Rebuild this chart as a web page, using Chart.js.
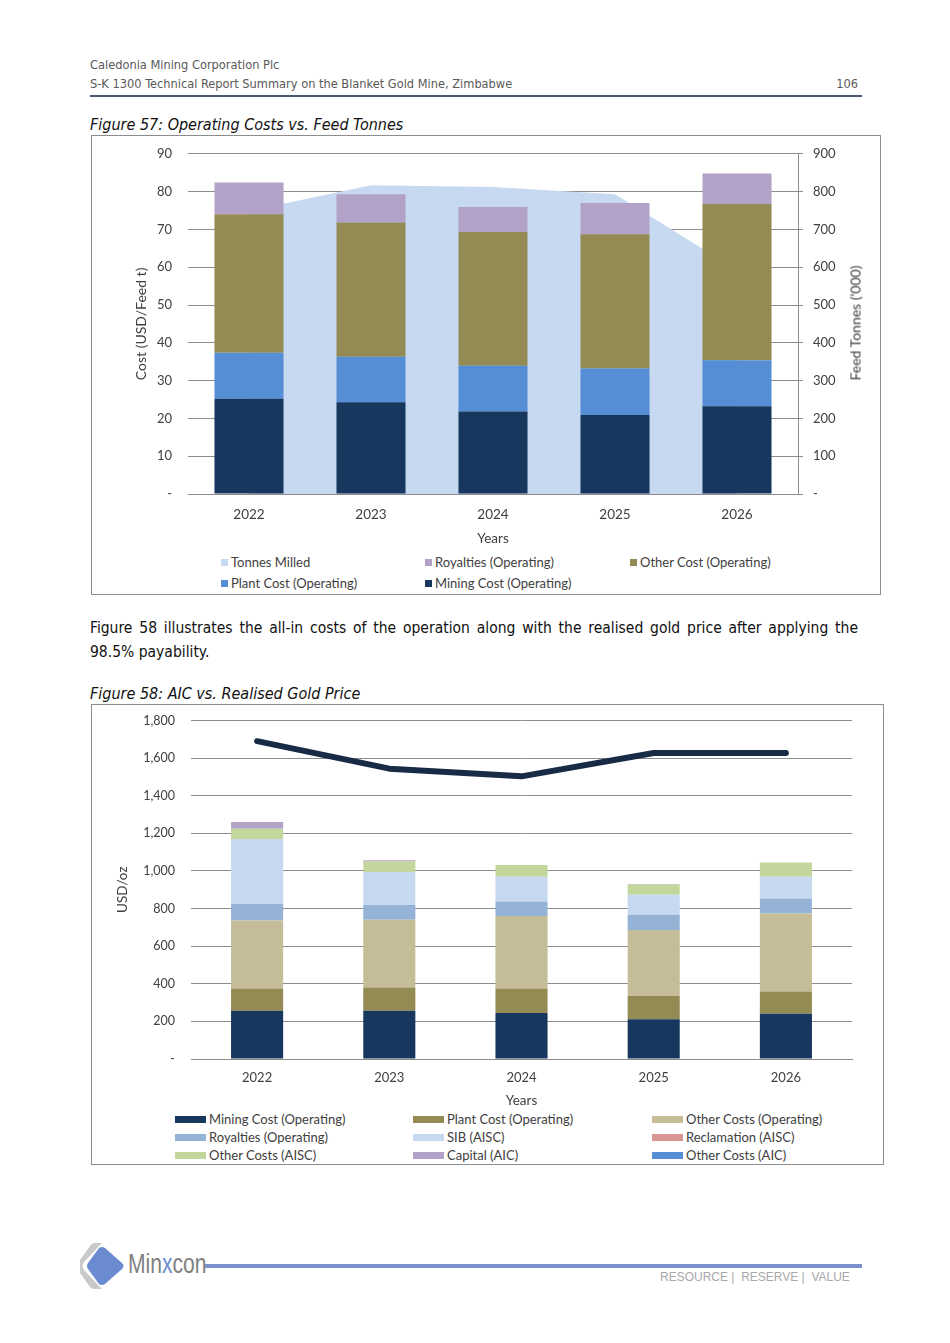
<!DOCTYPE html>
<html><head><meta charset="utf-8">
<script src="https://cdn.jsdelivr.net/npm/chart.js@4.4.1/dist/chart.umd.min.js"></script>
<style>
html,body{margin:0;padding:0;background:#fff;}
body{width:950px;height:1343px;position:relative;overflow:hidden;font-family:"DejaVu Sans Condensed","DejaVu Sans",sans-serif;}
.abs{position:absolute;white-space:nowrap;}
.hdr{color:#595959;font-size:12.7px;}
.cap{font-style:italic;font-size:16px;color:#111;}
.frame{position:absolute;border:1px solid #8c8c8c;box-sizing:border-box;}
.leg{position:absolute;font-family:Lato,sans-serif;font-size:13px;color:#404040;white-space:nowrap;line-height:16px;}
.leg .sw{display:inline-block;vertical-align:middle;margin-right:3px;position:relative;top:-1px;}
.para{left:90px;width:768px;font-size:15.5px;line-height:24px;color:#111;text-align:justify;text-align-last:left;white-space:normal;}
</style>
</head><body>
<div class="abs hdr" style="left:90px;top:57px;">Caledonia Mining Corporation Plc</div>
<div class="abs hdr" style="left:90px;top:76px;">S-K 1300 Technical Report Summary on the Blanket Gold Mine, Zimbabwe</div>
<div class="abs hdr" style="left:810px;top:76px;width:48px;text-align:right;">106</div>
<div class="abs" style="left:90px;top:95px;width:772px;height:2px;background:#4b5874;"></div>

<div class="abs cap" style="left:90px;top:115px;">Figure 57: Operating Costs vs. Feed Tonnes</div>
<div class="frame" style="left:91px;top:135px;width:790px;height:460px;"></div>
<div class="abs" style="left:92px;top:130px;width:787px;height:422px;"><canvas id="c1"></canvas></div>
<div class="abs" id="rt1" style="left:855px;top:323px;transform:translate(-50%,-50%) rotate(-90deg);font-family:Lato,sans-serif;font-size:14px;color:#404040;">Feed Tonnes ('000)</div>
<div id="leg1"></div>

<div class="abs para" style="top:616px;">Figure 58 illustrates the all-in costs of the operation along with the realised gold price after applying the 98.5% payability.</div>

<div class="abs cap" style="left:90px;top:684px;">Figure 58: AIC vs. Realised Gold Price</div>
<div class="frame" style="left:91px;top:704px;width:793px;height:461px;"></div>
<div class="abs" style="left:92px;top:697px;width:790px;height:413px;"><canvas id="c2"></canvas></div>
<div id="leg2"></div>

<svg class="abs" style="left:80px;top:1240px;" width="50" height="52" viewBox="0 0 50 52">
  <path d="M22 3 L4 22 Q1 26 4 30 L22 49 L14 49 Q12 49 10 47 L0 33 Q-2 26 0 20 L10 6 Q12 3 15 3 Z" fill="#c9c9c9"/>
  <path d="M25 8 L42 23 Q45 26 42 29 L25 44 Q22 46 19 44 L8 29 Q6 26 8 23 L19 8 Q22 6 25 8 Z" fill="#6a8bd0"/>
</svg>
<div class="abs" style="left:128px;top:1249px;font-family:'Liberation Sans',sans-serif;font-size:27px;color:#808080;transform:scaleX(0.78);transform-origin:0 50%;">Min<span style="color:#6a8bd0">x</span>con</div>
<div class="abs" style="left:205px;top:1264px;width:657px;height:4px;background:#7b91cb;"></div>
<div class="abs" style="left:660px;top:1270px;font-family:'Liberation Sans',sans-serif;font-size:12px;color:#a8a8a8;">RESOURCE |&nbsp; RESERVE |&nbsp; VALUE</div>

<script>
// ---------- Figure 57 data ----------
const years = ['2022', '2023', '2024', '2025', '2026'];
const miningCostPerT = [25.2, 24.3, 21.8, 20.9, 23.2];
const plantCostPerT = [12.2, 12.0, 12.1, 12.3, 12.2];
const otherCostPerT = [36.6, 35.5, 35.4, 35.5, 41.3];
const royaltiesPerT = [8.4, 7.5, 6.6, 8.3, 8.1];
const tonnesMilled = [749, 817, 812, 793, 592];

// ---------- Figure 58 data ----------
const miningOz = [256, 256, 244, 212, 240];
const plantOz = [119, 124, 131, 124, 119];
const otherOpOz = [362, 361, 385, 350, 415];
const royaltiesOz = [87, 78, 78, 81, 80];
const sibOz = [346, 175, 131, 106, 115];
const reclamationOz = [0, 0, 0, 0, 0];
const otherAiscOz = [55, 56, 63, 55, 76];
const capitalOz = [35, 7, 0, 3, 0];
const otherAicOz = [0, 0, 0, 0, 0];
const goldPrice = [1690, 1544, 1503, 1627, 1627];

const TXT = '#404040';
const GRID = '#8c8c8c';
const FONT = 'Lato';

const dash = v => v === 0 ? '-' : v.toLocaleString('en-US');

// ---------- Chart 1 ----------
const c1 = new Chart(document.getElementById('c1'), {
  type: 'bar',
  data: {
    labels: years,
    datasets: [
      {type: 'line', label: 'Tonnes Milled', data: tonnesMilled, yAxisID: 'y1', fill: 'origin',
       backgroundColor: '#c6d9f1', borderColor: '#c6d9f1', borderWidth: 0, pointRadius: 0, tension: 0, order: 10},
      {label: 'Mining Cost (Operating)', data: miningCostPerT, backgroundColor: '#17375e', yAxisID: 'y', order: 1},
      {label: 'Plant Cost (Operating)', data: plantCostPerT, backgroundColor: '#558ed5', yAxisID: 'y', order: 1},
      {label: 'Other Cost (Operating)', data: otherCostPerT, backgroundColor: '#948a54', yAxisID: 'y', order: 1},
      {label: 'Royalties (Operating)', data: royaltiesPerT, backgroundColor: '#b3a2c7', yAxisID: 'y', order: 1}
    ]
  },
  options: {
    responsive: true, maintainAspectRatio: false, animation: false,
    layout: {padding: {top: 0, left: 0, right: 0, bottom: 0}},
    datasets: {bar: {categoryPercentage: 1, barPercentage: 0.566}},
    plugins: {legend: {display: false}, tooltip: {enabled: false}},
    scales: {
      x: {stacked: true, grid: {display: false, drawTicks: false}, border: {display: true, color: GRID, width: 1},
          ticks: {color: TXT, font: {family: FONT, size: 13.5}, padding: 13},
          title: {display: true, text: 'Years', color: TXT, font: {family: FONT, size: 13.5}, padding: {top: 0, bottom: 5}},
          afterFit: a => { a.height = 58; }},
      y: {stacked: true, min: 0, max: 90, position: 'left',
          grid: {color: GRID, drawTicks: false, lineWidth: 1}, border: {display: false},
          ticks: {stepSize: 10, color: TXT, font: {family: FONT, size: 13}, padding: 16, callback: v => dash(v)},
          title: {display: true, text: 'Cost (USD/Feed t)', color: TXT, font: {family: FONT, size: 14}, padding: {top: 41, bottom: 0}},
          afterFit: a => { a.width = 96; }},
      y1: {stacked: false, min: 0, max: 900, position: 'right',
          grid: {drawOnChartArea: false, drawTicks: true, tickLength: 5, color: GRID}, border: {display: true, color: GRID, width: 1},
          ticks: {stepSize: 100, color: TXT, font: {family: FONT, size: 13}, padding: 10, callback: v => dash(v)},
          afterFit: a => { a.width = 81; }}
    }
  }
});

// ---------- Chart 2 ----------
const c2 = new Chart(document.getElementById('c2'), {
  type: 'bar',
  data: {
    labels: years,
    datasets: [
      {type: 'line', label: 'Realised Gold Price', data: goldPrice, stack: 'price', borderColor: '#172a46', borderWidth: 6,
       pointRadius: 0, tension: 0, fill: false, borderCapStyle: 'round', borderJoinStyle: 'round', order: 0},
      {label: 'Mining Cost (Operating)', data: miningOz, backgroundColor: '#17375e', stack: 's', order: 1},
      {label: 'Plant Cost (Operating)', data: plantOz, backgroundColor: '#948a54', stack: 's', order: 1},
      {label: 'Other Costs (Operating)', data: otherOpOz, backgroundColor: '#c4bd97', stack: 's', order: 1},
      {label: 'Royalties (Operating)', data: royaltiesOz, backgroundColor: '#95b3d7', stack: 's', order: 1},
      {label: 'SIB (AISC)', data: sibOz, backgroundColor: '#c6d9f1', stack: 's', order: 1},
      {label: 'Reclamation (AISC)', data: reclamationOz, backgroundColor: '#d99694', stack: 's', order: 1},
      {label: 'Other Costs (AISC)', data: otherAiscOz, backgroundColor: '#c3d69b', stack: 's', order: 1},
      {label: 'Capital (AIC)', data: capitalOz, backgroundColor: '#b3a2c7', stack: 's', order: 1},
      {label: 'Other Costs (AIC)', data: otherAicOz, backgroundColor: '#558ed5', stack: 's', order: 1}
    ]
  },
  options: {
    responsive: true, maintainAspectRatio: false, animation: false,
    layout: {padding: {top: 0, left: 0, right: 30, bottom: 0}},
    datasets: {bar: {categoryPercentage: 1, barPercentage: 0.394}},
    plugins: {legend: {display: false}, tooltip: {enabled: false}},
    scales: {
      x: {stacked: true, grid: {display: false, drawTicks: false}, border: {display: true, color: GRID, width: 1},
          ticks: {color: TXT, font: {family: FONT, size: 13}, padding: 11.5},
          title: {display: true, text: 'Years', color: TXT, font: {family: FONT, size: 13.5}, padding: {top: 0, bottom: 1}},
          afterFit: a => { a.height = 51; }},
      y: {stacked: true, min: 0, max: 1800,
          grid: {color: GRID, drawTicks: false, lineWidth: 1}, border: {display: false},
          ticks: {stepSize: 200, color: TXT, font: {family: FONT, size: 12.5}, padding: 16, callback: v => dash(v)},
          title: {display: true, text: 'USD/oz', color: TXT, font: {family: FONT, size: 13.5}, padding: {top: 23, bottom: 0}},
          afterFit: a => { a.width = 99; }}
    }
  }
});

// ---------- HTML legends built from the chart datasets ----------
function buildLegend(containerId, chart, order, cols, rows, sw) {
  const el = document.getElementById(containerId);
  order.forEach((label, i) => {
    const ds = chart.data.datasets.find(d => d.label === label);
    const col = i % cols.length, row = Math.floor(i / cols.length);
    const item = document.createElement('div');
    item.className = 'leg';
    item.style.left = cols[col] + 'px';
    item.style.top = (rows[row] - 8) + 'px';
    const s = document.createElement('span');
    s.className = 'sw';
    s.style.width = sw[0] + 'px'; s.style.height = sw[1] + 'px';
    s.style.background = ds.backgroundColor;
    item.appendChild(s);
    item.appendChild(document.createTextNode(label));
    el.appendChild(item);
  });
}
buildLegend('leg1', c1,
  ['Tonnes Milled', 'Royalties (Operating)', 'Other Cost (Operating)', 'Plant Cost (Operating)', 'Mining Cost (Operating)'],
  [221, 425, 630], [562, 583], [7, 7]);
buildLegend('leg2', c2,
  ['Mining Cost (Operating)', 'Plant Cost (Operating)', 'Other Costs (Operating)',
   'Royalties (Operating)', 'SIB (AISC)', 'Reclamation (AISC)',
   'Other Costs (AISC)', 'Capital (AIC)', 'Other Costs (AIC)'],
  [175, 413, 652], [1119, 1137, 1155], [31, 7]);
</script>
</body></html>
